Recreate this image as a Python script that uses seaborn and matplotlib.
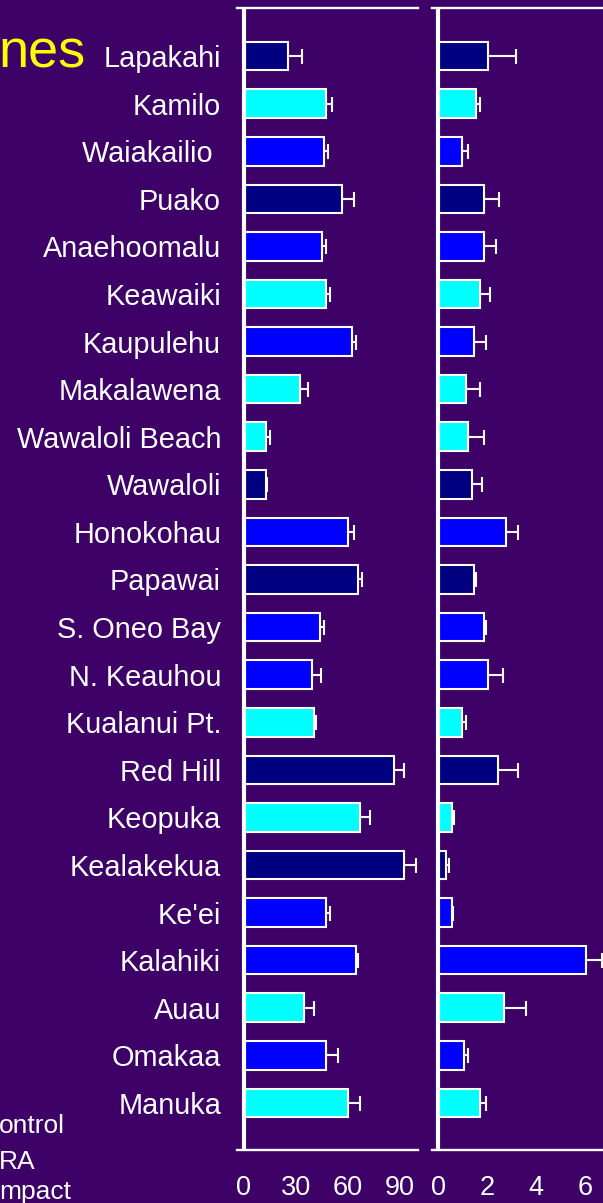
import numpy as np
import matplotlib
matplotlib.use("Agg")
import matplotlib.pyplot as plt
import seaborn as sns

sites = ["Lapakahi", "Kamilo", "Waiakailio ", "Puako", "Anaehoomalu", "Keawaiki",
         "Kaupulehu", "Makalawena", "Wawaloli Beach", "Wawaloli", "Honokohau",
         "Papawai", "S. Oneo Bay", "N. Keauhou", "Kualanui Pt.", "Red Hill",
         "Keopuka", "Kealakekua", "Ke'ei", "Kalahiki", "Auau", "Omakaa", "Manuka"]

# N = navy, C = cyan, B = blue
site_type = ["N", "C", "B", "N", "B", "C", "B", "C", "C", "N", "B", "N", "B",
             "B", "C", "N", "C", "N", "B", "B", "C", "B", "C"]

left_vals = [25.4, 47.3, 46, 56.5, 45, 47.3, 62.3, 32.3, 12.7, 12.7, 60, 65.8,
             43.9, 39.2, 40.4, 86.6, 66.9, 92.3, 47.5, 64.8, 34.6, 47.3, 60]
left_err = [8, 3.5, 2.5, 7, 2.2, 2.3, 2.3, 4.6, 2.3, 0.8, 3.5, 2.3,
            2.4, 5, 1.2, 5.8, 5.8, 7, 2, 1.2, 5.8, 7, 7]

right_vals = [2.05, 1.55, 0.98, 1.88, 1.88, 1.71, 1.47, 1.14, 1.24, 1.4, 2.79, 1.48,
              1.89, 2.04, 0.98, 2.45, 0.57, 0.33, 0.57, 6.04, 2.69, 1.06, 1.7]
right_err = [1.13, 0.16, 0.25, 0.6, 0.5, 0.4, 0.5, 0.57, 0.64, 0.4, 0.48, 0.08,
             0.08, 0.6, 0.16, 0.82, 0.1, 0.1, 0.06, 0.66, 0.9, 0.16, 0.26]

left_ticks = [0, 30, 60, 90]
right_ticks = [0, 2, 4, 6]
legend_labels = ["ontrol", "RA", "mpact"]
title_part = "nes"

bg = "#3C0066"
type_colors = {"N": "#000080", "C": "#00FFFF", "B": "#0000FF"}
palette = {s: type_colors[t] for s, t in zip(sites, site_type)}

sns.set_style("white")
plt.rcParams["font.family"] = ["Liberation Sans", "DejaVu Sans"]

W, H = 603, 1203
fig = plt.figure(figsize=(W / 100, H / 100), dpi=100, facecolor=bg)

def px_axes(x0, x1, y0, y1):
    return fig.add_axes([x0 / W, 1 - y1 / H, (x1 - x0) / W, (y1 - y0) / H])

ax1 = px_axes(237, 418, 8, 1150)
ax2 = px_axes(432, 634, 8, 1150)

panels = [(ax1, left_vals, left_err, (-4, 100.4), left_ticks),
          (ax2, right_vals, right_err, (-0.245, 8), right_ticks)]

ypos = np.arange(len(sites))
for ax, vals, errs, xlim, ticks in panels:
    ax.set_facecolor(bg)
    sns.barplot(x=vals, y=sites, hue=sites, palette=palette, orient="h",
                width=0.6, saturation=1, edgecolor="white", linewidth=1.5,
                legend=False, ax=ax, zorder=2)
    ax.errorbar(vals, ypos, xerr=[np.zeros(len(errs)), errs], fmt="none",
                ecolor="white", elinewidth=1.5, capsize=5.4, capthick=1.5,
                zorder=1)
    ax.axvline(0, color="white", lw=3, zorder=3)
    ax.set_xlim(*xlim)
    ax.set_ylim(22.99, -1.01)
    ax.set_xticks(ticks)
    ax.set_xlabel("")
    ax.set_ylabel("")
    for side in ["left", "right"]:
        ax.spines[side].set_visible(False)
    for side in ["top", "bottom"]:
        ax.spines[side].set_color("white")
        ax.spines[side].set_linewidth(1.7)
    ax.tick_params(axis="x", direction="out", length=5, width=1.5,
                   colors="white", labelsize=19.5, pad=13)
    ax.tick_params(axis="y", direction="in", length=5, width=1.5,
                   colors="white", labelsize=20.8, pad=11.5)

ax2.set_yticklabels([])

fig.text(-2 / W, 1 - 68 / H, title_part, color="#FFFF00", fontsize=39,
         ha="left", va="baseline")
for label, yb in zip(legend_labels, [1133, 1169, 1199]):
    fig.text(-1 / W, 1 - yb / H, label, color="white", fontsize=19,
             ha="left", va="baseline")

fig.savefig("out.png", dpi=100, facecolor=bg)
